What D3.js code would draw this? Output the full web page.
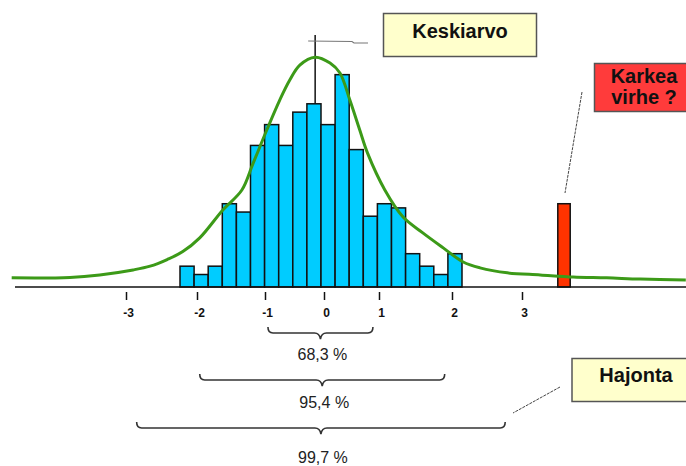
<html>
<head>
<style>
  body { margin: 0; background: #fff; }
  svg { display: block; font-family: "Liberation Sans", Arial, sans-serif; }
</style>
</head>
<body>
<svg id="chart" width="686" height="466"></svg>
<script src="https://d3js.org/d3.v7.min.js"></script>
<script>
// histogram bins (counts), left to right
const binCounts = [5, 3, 5, 20, 18, 34, 39, 34, 42, 44, 39, 51, 33, 17, 20, 19, 8, 5, 3, 8]

// axis ticks (in standard deviations)
const tickValues = [-3, -2, -1, 0, 1, 2, 3]
const tickLabels = ["-3", "-2", "-1", "0", "1", "2", "3"]

// fitted curve
const curveX = [-4.61, -3.79, -3.37, -2.90, -2.66, -2.42, -2.20, -1.96, -1.62, -1.34, -1.18, -0.97, -0.75,
                -0.58, -0.41, -0.15, 0.11, 0.29, 0.47, 0.65, 0.79, 1.08, 1.33, 1.60, 1.88, 2.16, 2.40,
                2.79, 3.26, 3.73, 4.21, 4.69, 5.34]
const curveY = [2.2, 2.3, 2.9, 4.1, 5.0, 6.6, 8.5, 11.8, 18.5, 23.3, 29.5, 37.7, 44.9,
                49.7, 53.3, 55.2, 53.8, 51.4, 44.9, 37.7, 32.2, 23.3, 16.8, 13.0, 9.4, 6.0, 4.6,
                3.4, 2.9, 2.4, 2.2, 1.9, 1.7]

const meanValue = -0.15
const outlierValue = 3.6
const outlierCount = 20

// spread braces
const spreadLabels = ["68,3 %", "95,4 %", "99,7 %"]
const spreadLo = [-0.95, -1.96, -2.85]
const spreadHi = [0.89, 1.90, 2.76]

const svg = d3.select("#chart")
svg.append("rect").attr("width", 686).attr("height", 466).attr("fill", "#fff")

// hand drawn axis is not evenly spaced, so piecewise scale
const xScale = d3.scaleLinear()
    .domain(tickValues)
    .range([126, 197, 265, 324, 379, 452, 522])
const yScale = d3.scaleLinear()
    .domain([0, 55])
    .range([287, 58])
const binScale = d3.scaleBand()
    .domain(d3.range(binCounts.length))
    .range([180, 462])

// mean line (behind bars)
svg.append("line")
    .attr("x1", xScale(meanValue)).attr("x2", xScale(meanValue))
    .attr("y1", 35).attr("y2", yScale(0))
    .attr("stroke", "#111").attr("stroke-width", 1.5)

// Keskiarvo leader
svg.append("path")
    .attr("d", `M${xScale(meanValue) - 7},41 L352,41.5 L354,43 L368,43`)
    .attr("fill", "none").attr("stroke", "#777").attr("stroke-width", 1.2)

// bars
svg.append("g").selectAll("rect")
    .data(binCounts)
    .join("rect")
    .attr("x", (d, i) => binScale(i))
    .attr("width", binScale.bandwidth())
    .attr("y", d => yScale(d))
    .attr("height", d => yScale(0) - yScale(d))
    .attr("fill", "#00ccff")
    .attr("stroke", "#111")
    .attr("stroke-width", 1.5)

// outlier bar
svg.append("rect")
    .attr("x", xScale(outlierValue) - 6.2)
    .attr("width", 12.4)
    .attr("y", yScale(outlierCount))
    .attr("height", yScale(0) - yScale(outlierCount))
    .attr("fill", "#ff3300")
    .attr("stroke", "#111")
    .attr("stroke-width", 1.5)

// baseline
svg.append("line")
    .attr("x1", 15).attr("x2", 686)
    .attr("y1", yScale(0)).attr("y2", yScale(0))
    .attr("stroke", "#111").attr("stroke-width", 1.5)

// curve
let curveLine = d3.line()
    .x(d => xScale(d[0]))
    .y(d => yScale(d[1]))
    .curve(d3.curveCatmullRom.alpha(0.5))
svg.append("path")
    .datum(curveX.map((x, i) => [x, curveY[i]]))
    .attr("d", curveLine)
    .attr("fill", "none")
    .attr("stroke", "#3c9a18")
    .attr("stroke-width", 3)

// axis
let axis = svg.append("g")
    .attr("transform", "translate(0,292)")
    .call(d3.axisBottom(xScale)
        .tickValues(tickValues)
        .tickFormat((d, i) => tickLabels[i])
        .tickSize(8)
        .tickPadding(8))
axis.select(".domain").remove()
axis.selectAll("line").attr("stroke", "#111").attr("stroke-width", 1.5)
axis.selectAll("text")
    .attr("font-family", "Liberation Sans, Arial, sans-serif")
    .attr("font-size", 12).attr("font-weight", "bold")
    .attr("fill", "#111")
    .attr("dx", 2)

// braces
function brace(x0, x1, y) {
    let xm = (x0 + x1) / 2
    return `M${x0},${y - 6} Q${x0},${y} ${x0 + 5},${y} L${xm - 6},${y} Q${xm - 1},${y} ${xm},${y + 6}`
         + ` Q${xm + 1},${y} ${xm + 6},${y} L${x1 - 5},${y} Q${x1},${y} ${x1},${y - 6}`
}
let braceY = [333, 380, 428]
let labelY = [360, 408, 463]
spreadLabels.forEach((label, i) => {
    let x0 = xScale(spreadLo[i]), x1 = xScale(spreadHi[i])
    svg.append("path")
        .attr("d", brace(x0, x1, braceY[i]))
        .attr("fill", "none").attr("stroke", "#333").attr("stroke-width", 1.6)
    svg.append("text")
        .attr("x", (x0 + x1) / 2 + 2).attr("y", labelY[i])
        .attr("text-anchor", "middle")
        .attr("font-size", 16).attr("fill", "#222")
        .text(label)
})

// callout boxes
function callout(x, y, w, h, fill, lines, cx, baselines) {
    svg.append("rect")
        .attr("x", x).attr("y", y).attr("width", w).attr("height", h)
        .attr("fill", fill).attr("stroke", "#555").attr("stroke-width", 1.5)
    lines.forEach((t, i) => {
        svg.append("text")
            .attr("x", cx).attr("y", baselines[i])
            .attr("text-anchor", "middle")
            .attr("font-size", 20).attr("font-weight", "bold").attr("fill", "#111")
            .text(t)
    })
}
callout(383.5, 13.5, 153, 43, "#ffffcc", ["Keskiarvo"], 460, [38])
callout(594.5, 63.5, 110, 48, "#ff3b3b", ["Karkea", "virhe ?"], 644, [83, 104])
callout(572, 358.5, 130, 43, "#ffffcc", ["Hajonta"], 636, [382])

// dashed leaders
svg.append("line")
    .attr("x1", 582).attr("y1", 92).attr("x2", 565).attr("y2", 193)
    .attr("stroke", "#444").attr("stroke-width", 1).attr("stroke-dasharray", "3,1")
svg.append("line")
    .attr("x1", 560).attr("y1", 387).attr("x2", 513).attr("y2", 413)
    .attr("stroke", "#444").attr("stroke-width", 1).attr("stroke-dasharray", "3,1")
</script>
</body>
</html>
